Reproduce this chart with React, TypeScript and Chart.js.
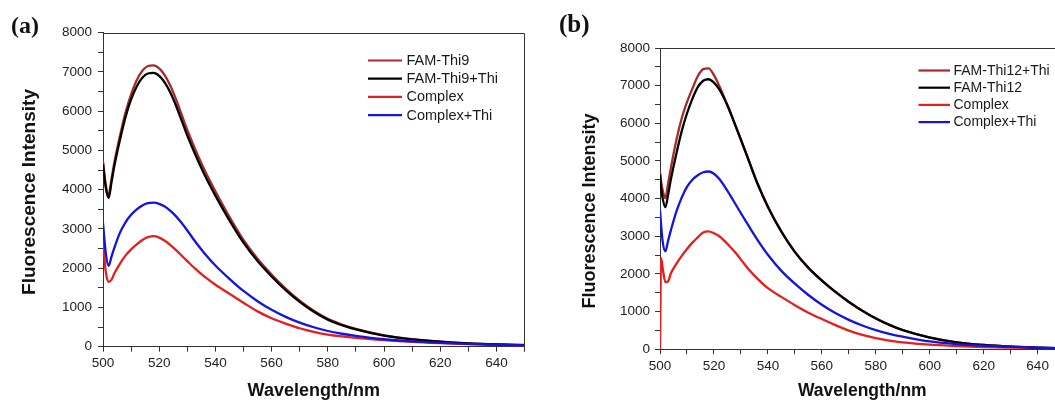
import React, { useEffect, useRef } from "react";
import { Chart, registerables } from "chart.js";

Chart.register(...registerables);

// ---------- Panel (a) data ----------
const wavelengthsA = [500, 501, 502, 503, 504, 506, 508, 510, 512, 514, 516, 518, 520, 522, 524, 526, 528, 530, 533, 536, 540, 545, 550, 555, 560, 565, 570, 575, 580, 585, 590, 600, 610, 620, 630, 640, 650];
const famThi9 = [4720, 4120, 3860, 4260, 4680, 5360, 5960, 6430, 6790, 7030, 7150, 7170, 7090, 6910, 6640, 6300, 5910, 5520, 5000, 4520, 3960, 3310, 2720, 2240, 1840, 1480, 1170, 915, 710, 565, 452, 288, 192, 130, 87, 60, 43];
const famThi9Thi = [4650, 4050, 3790, 4180, 4590, 5260, 5850, 6300, 6630, 6850, 6960, 6975, 6900, 6730, 6470, 6140, 5760, 5380, 4870, 4400, 3850, 3220, 2650, 2180, 1790, 1440, 1140, 890, 690, 550, 440, 280, 187, 127, 85, 59, 42];
const complexA = [2700, 1900, 1650, 1700, 1860, 2110, 2320, 2480, 2610, 2720, 2790, 2815, 2780, 2700, 2590, 2460, 2320, 2180, 1975, 1790, 1580, 1350, 1120, 900, 725, 590, 470, 378, 310, 262, 225, 168, 122, 90, 65, 45, 30];
const complexThiA = [3150, 2380, 2060, 2290, 2510, 2900, 3170, 3360, 3500, 3600, 3655, 3670, 3640, 3570, 3460, 3320, 3150, 2960, 2660, 2390, 2070, 1730, 1420, 1160, 940, 760, 612, 495, 400, 330, 275, 190, 137, 100, 70, 50, 35];
const labelsA = ["FAM-Thi9", "FAM-Thi9+Thi", "Complex", "Complex+Thi"];

// ---------- Panel (b) data ----------
const wavelengthsB = [500, 500.4, 501, 502, 503, 504, 506, 508, 510, 512, 514, 516, 518, 520, 522, 524, 526, 528, 530, 533, 536, 540, 545, 550, 555, 560, 565, 570, 575, 580, 585, 590, 600, 610, 620, 630, 640, 650];
const famThi12Thi = [4700, 4450, 4220, 4010, 4400, 4800, 5530, 6120, 6560, 6920, 7250, 7440, 7460, 7280, 6990, 6650, 6310, 5940, 5570, 5000, 4430, 3790, 3130, 2590, 2170, 1830, 1530, 1262, 1025, 820, 650, 510, 314, 184, 112, 68, 42, 21];
const famThi12 = [4650, 4300, 4000, 3770, 4100, 4500, 5170, 5780, 6260, 6650, 6960, 7130, 7170, 7080, 6900, 6630, 6300, 5930, 5560, 4990, 4420, 3780, 3120, 2580, 2160, 1820, 1520, 1255, 1020, 815, 645, 505, 310, 182, 111, 67, 41, 20];
const complexB = [0, 2420, 2150, 1780, 1800, 2010, 2260, 2470, 2660, 2830, 2970, 3100, 3130, 3080, 3000, 2870, 2720, 2560, 2380, 2110, 1880, 1620, 1390, 1170, 970, 800, 640, 495, 380, 295, 230, 181, 120, 85, 58, 40, 30, 20];
const complexThiB = [3700, 3300, 2850, 2600, 2880, 3150, 3640, 4020, 4310, 4500, 4620, 4700, 4720, 4660, 4520, 4320, 4090, 3850, 3610, 3260, 2920, 2510, 2080, 1740, 1440, 1180, 960, 780, 630, 505, 410, 333, 205, 137, 94, 67, 41, 22];
const labelsB = ["FAM-Thi12+Thi", "FAM-Thi12", "Complex", "Complex+Thi"];

// ---------- Axis settings ----------
const xMin = 500;
const xMax = 650;
const xStep = 10;
const xLabelEvery = 20;
const yMin = 0;
const yMax = 8000;
const yStep = 500;
const yLabelEvery = 1000;

const COLORS = ["#a82a2a", "#000000", "#e61e1e", "#1414e0"];
const DRAW_ORDER = [3, 1, 2, 0];
const FONT = "Arial, 'Liberation Sans', Helvetica, sans-serif";

const decorPlugin = {
  id: "panelDecor",
  afterDraw(chart: any, _args: any, opts: any) {
    const ctx = chart.ctx;
    const ca = chart.chartArea;
    ctx.save();
    // top & right frame
    ctx.strokeStyle = "#333";
    ctx.lineWidth = 1;
    ctx.beginPath();
    const t = Math.round(ca.top) + 0.5;
    const r = Math.round(ca.right) - 0.5;
    ctx.moveTo(ca.left, t);
    ctx.lineTo(r, t);
    ctx.lineTo(r, ca.bottom);
    ctx.stroke();

    // legend
    const lg = opts.legend;
    chart.data.datasets.forEach((ds: any, i: number) => {
      const y = lg.y0 + i * lg.dy;
      ctx.strokeStyle = ds.borderColor;
      ctx.lineWidth = 2.2;
      ctx.beginPath();
      ctx.moveTo(lg.x0, y);
      ctx.lineTo(lg.x1, y);
      ctx.stroke();
      ctx.fillStyle = "#1a1a1a";
      ctx.font = `${lg.size}px ${FONT}`;
      ctx.textAlign = "left";
      ctx.textBaseline = "middle";
      ctx.fillText(ds.label, lg.tx, y + 0.5);
    });

    // y axis title
    const yt = opts.yTitle;
    ctx.translate(yt.x, yt.y);
    ctx.rotate(-Math.PI / 2);
    ctx.font = `bold ${yt.size}px ${FONT}`;
    ctx.fillStyle = "#111";
    ctx.textAlign = "center";
    ctx.textBaseline = "middle";
    ctx.fillText(yt.text, 0, 0);
    ctx.restore();
  },
};

function makeConfig(p: any) {
  const datasets = p.series.map((s: number[], i: number) => ({
    label: p.labels[i],
    data: p.wavelengths.map((w: number, j: number) => ({ x: w, y: s[j] })),
    borderColor: COLORS[i],
    backgroundColor: COLORS[i],
    borderWidth: 2.3,
    pointRadius: 0,
    cubicInterpolationMode: "monotone",
    order: DRAW_ORDER[i],
  }));
  const tickFont = { family: FONT, size: 13.5 };
  return {
    type: "line",
    data: { datasets },
    plugins: [decorPlugin],
    options: {
      responsive: false,
      animation: false,
      events: [],
      layout: { padding: { left: 0, top: p.padTop, right: p.padRight, bottom: 0 } },
      plugins: {
        legend: { display: false },
        tooltip: { enabled: false },
        panelDecor: { legend: p.legend, yTitle: p.yTitle },
      },
      scales: {
        x: {
          type: "linear",
          min: xMin,
          max: xMax,
          afterFit: (s: any) => {
            s.height = p.xHeight;
          },
          ticks: {
            stepSize: xStep,
            autoSkip: false,
            maxRotation: 0,
            padding: p.xPad,
            color: "#222",
            font: tickFont,
            callback: (v: number) => (v % xLabelEvery === 0 ? String(v) : ""),
          },
          grid: { display: true, drawOnChartArea: false, drawTicks: true, tickLength: 5, color: "#333", tickColor: "#333" },
          border: { display: true, color: "#333", width: 1 },
          title: {
            display: true,
            text: "Wavelength/nm",
            color: "#111",
            font: { family: FONT, size: p.xTitleSize, weight: "bold" },
            padding: { top: 0, bottom: p.xTitleBottom },
          },
        },
        y: {
          type: "linear",
          min: yMin,
          max: yMax,
          afterFit: (s: any) => {
            s.width = p.yWidth;
          },
          ticks: {
            stepSize: yStep,
            autoSkip: false,
            padding: p.yPad,
            color: "#222",
            font: tickFont,
            callback: (v: number) => (v % yLabelEvery === 0 ? String(v) : ""),
          },
          grid: { display: true, drawOnChartArea: false, drawTicks: true, tickLength: 5, color: "#333", tickColor: "#333" },
          border: { display: true, color: "#333", width: 1 },
          title: { display: false },
        },
      },
    },
  };
}

export default function App() {
  const refA = useRef<HTMLCanvasElement>(null);
  const refB = useRef<HTMLCanvasElement>(null);

  useEffect(() => {
    const chartA = new Chart(
      refA.current as HTMLCanvasElement,
      makeConfig({
        wavelengths: wavelengthsA,
        series: [famThi9, famThi9Thi, complexA, complexThiA],
        labels: labelsA,
        padTop: 32.7,
        padRight: 5.5,
        xHeight: 56.3,
        yWidth: 103,
        xPad: 3.5,
        yPad: 6,
        xTitleSize: 18,
        xTitleBottom: 1,
        legend: { x0: 368, x1: 402, tx: 406.5, y0: 60.5, dy: 18.2, size: 14.5 },
        yTitle: { text: "Fluorescence Intensity", x: 29.5, y: 192, size: 19 },
      }) as any
    );
    const chartB = new Chart(
      refB.current as HTMLCanvasElement,
      makeConfig({
        wavelengths: wavelengthsB,
        series: [famThi12Thi, famThi12, complexB, complexThiB],
        labels: labelsB,
        padTop: 48,
        padRight: 10.4,
        xHeight: 53.8,
        yWidth: 135,
        xPad: 4,
        yPad: 5,
        xTitleSize: 17.5,
        xTitleBottom: 1,
        legend: { x0: 393.5, x1: 425, tx: 428.5, y0: 70.5, dy: 17.2, size: 14 },
        yTitle: { text: "Fluorescence Intensity", x: 65, y: 211, size: 18 },
      }) as any
    );
    return () => {
      chartA.destroy();
      chartB.destroy();
    };
  }, []);

  const serif = "'Liberation Serif', 'Times New Roman', 'DejaVu Serif', serif";
  return (
    <div
      style={{
        position: "fixed",
        left: 0,
        top: 0,
        width: 1055,
        height: 403,
        overflow: "hidden",
        background: "#ffffff",
      }}
    >
      <canvas ref={refA} width={530} height={403} style={{ position: "absolute", left: 0, top: 0, width: 530, height: 403 }} />
      <canvas ref={refB} width={550} height={403} style={{ position: "absolute", left: 525, top: 0, width: 550, height: 403 }} />
      <div style={{ position: "absolute", left: 11, top: 13, fontFamily: serif, fontWeight: "bold", fontSize: 24, lineHeight: "24px", color: "#111" }}>(a)</div>
      <div style={{ position: "absolute", left: 559, top: 11, fontFamily: serif, fontWeight: "bold", fontSize: 25, lineHeight: "25px", color: "#111" }}>(b)</div>
    </div>
  );
}
